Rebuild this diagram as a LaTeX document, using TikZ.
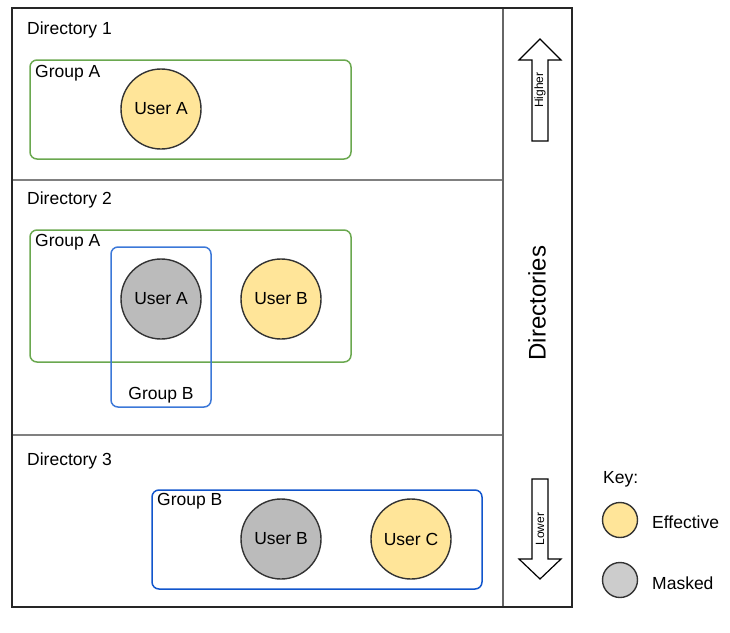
\documentclass[tikz,border=0pt]{standalone}
\usepackage{fontspec}
\setmainfont{Liberation Sans}
\definecolor{effective}{HTML}{FFE599}
\definecolor{masked}{HTML}{BBBBBB}
\definecolor{keymasked}{HTML}{CCCCCC}
\definecolor{groupgreen}{HTML}{6AA84F}
\definecolor{groupblue}{HTML}{3C78D8}
\definecolor{groupdeep}{HTML}{1155CC}
\tikzset{
  user/.style={circle, draw=black!80, line width=1.4pt, minimum size=80pt, inner sep=0pt, font=\fontsize{17.5}{21}\selectfont},
  keydot/.style={circle, draw=black!80, line width=1.4pt, minimum size=35pt, inner sep=0pt},
  txt/.style={inner sep=0pt, font=\fontsize{17.5}{21}\selectfont},
  groupbox/.style={rounded corners=7pt, line width=1.5pt},
  levelarrow/.style={draw=black, line width=1.2pt, fill=white, line join=miter},
  tiny/.style={inner sep=0pt, rotate=90, font=\fontsize{12}{14}\selectfont}
}
\begin{document}
\begin{tikzpicture}[x=1pt,y=-1pt]
    \useasboundingbox (0,0) rectangle (730,632);
    % frame and directory bands
    \draw[black!50, line width=1.3pt] (12,180) -- (503,180);
    \draw[black!50, line width=1.3pt] (12,435) -- (503,435);
    \draw[black!60, line width=1.3pt] (503,8) -- (503,607);
    \draw[black!85, line width=1.5pt] (12,8) rectangle (572,607);
    \node[txt, anchor=west] (dirone) at (27,30) {Directory 1};
    \node[txt, anchor=west] (dirtwo) at (27,200) {Directory 2};
    \node[txt, anchor=west] (dirthree) at (27,461) {Directory 3};
    % directory 1
    \draw[groupbox, groupgreen] (30,60) rectangle (351,159);
    \node[txt, anchor=west] (gaone) at (35,73) {Group A};
    \node[user, fill=effective] (uaone) at (161,109) {User A};
    % directory 2
    \draw[groupbox, groupgreen] (30,230) rectangle (351,362);
    \node[txt, anchor=west] (gatwo) at (35,242) {Group A};
    \draw[groupbox, groupblue] (111,247) rectangle (211,407);
    \node[txt] (gbtwo) at (161,395) {Group B};
    \node[user, fill=masked] (uatwo) at (161,299) {User A};
    \node[user, fill=effective] (ubtwo) at (281,299) {User B};
    % directory 3
    \draw[groupbox, groupdeep] (152,490) rectangle (482,589);
    \node[txt, anchor=west] (gbthree) at (157,501) {Group B};
    \node[user, fill=masked] (ubthree) at (281,539) {User B};
    \node[user, fill=effective] (ucthree) at (411,539) {User C};
    % order of directories
    \node[txt, rotate=90, font=\fontsize{24}{28}\selectfont] (dirs) at (537,303) {Directories};
    \draw[levelarrow] (532,141) -- (532,60) -- (519,60) -- (540,39) -- (561,60) -- (548,60) -- (548,141) -- cycle;
    \node[tiny] (higher) at (540,90) {Higher};
    \draw[levelarrow] (532,479) -- (532,559) -- (519,559) -- (540,579) -- (561,559) -- (548,559) -- (548,479) -- cycle;
    \node[tiny] (lower) at (540,529) {Lower};
    % key
    \node[txt, anchor=west] (key) at (603,479) {Key:};
    \node[keydot, fill=effective] (keyeff) at (620,520) {};
    \node[txt, anchor=west] (keyefftxt) at (652,522) {Effective};
    \node[keydot, fill=keymasked] (keymask) at (620,580) {};
    \node[txt, anchor=west] (keymasktxt) at (652,583) {Masked};
\end{tikzpicture}
\end{document}
